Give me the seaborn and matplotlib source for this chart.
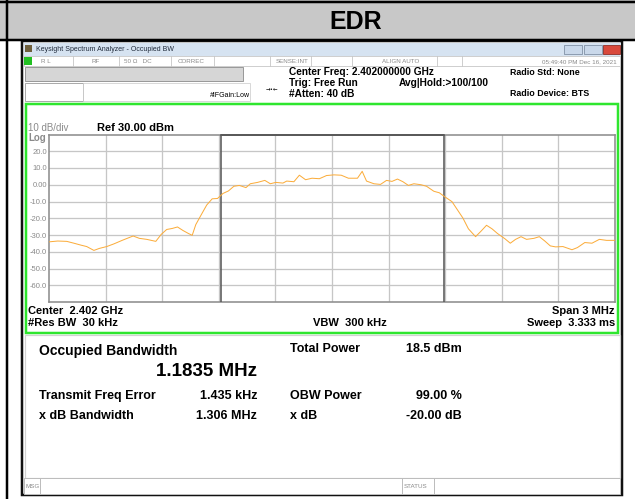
import matplotlib
matplotlib.use("Agg")   # no display in the sandbox
import matplotlib.pyplot as plt
from matplotlib.patches import Rectangle
import seaborn as sns
import pandas as pd

# ── Trace ────────────────────────────────────────────────────────────────────
# offset from the 2.402 GHz centre (MHz) and displayed level (dBm)
FREQ_OFFSET_MHZ = [
    -1.500, -1.454, -1.406, -1.368, -1.329, -1.300, -1.262, -1.233, -1.194, -1.156,
    -1.108, -1.054, -1.021, -0.982, -0.934, -0.905, -0.876, -0.847, -0.819, -0.790,
    -0.761, -0.741, -0.722, -0.693, -0.664, -0.635, -0.607, -0.578, -0.549, -0.520,
    -0.491, -0.456, -0.433, -0.395, -0.356, -0.327, -0.298, -0.260, -0.240, -0.202,
    -0.173, -0.140, -0.106, -0.067, -0.029, 0.010, 0.049, 0.087, 0.135, 0.160,
    0.183, 0.222, 0.257, 0.289, 0.318, 0.347, 0.376, 0.405, 0.434, 0.472,
    0.501, 0.540, 0.569, 0.598, 0.636, 0.665, 0.694, 0.723, 0.761, 0.790,
    0.819, 0.848, 0.877, 0.916, 0.945, 0.973, 1.002, 1.031, 1.070, 1.099,
    1.128, 1.157, 1.185, 1.224, 1.272, 1.301, 1.340, 1.378, 1.417, 1.455, 1.500,
]
LEVEL_DBM = [
    -34.1, -33.6, -33.8, -34.9, -36.1, -36.9, -39.2, -38.0, -36.9, -35.3,
    -33.0, -30.6, -32.0, -32.6, -33.8, -29.6, -26.7, -26.1, -25.2, -27.3,
    -29.1, -30.2, -23.8, -17.9, -12.1, -8.4, -8.2, -5.2, -3.7, -0.9,
    -0.4, -1.7, 0.6, 1.4, 2.6, 0.6, 1.4, 1.0, 2.2, 1.8,
    5.7, 3.0, 3.9, 3.6, 5.5, 5.9, 5.7, 3.9, 3.9, 8.0,
    2.2, 0.6, 0.2, 2.6, 2.0, 3.4, 1.8, -0.4, 0.6, 0.0,
    -0.9, -3.9, -4.8, -7.2, -10.1, -15.0, -19.9, -26.3, -31.0, -27.7,
    -24.2, -26.3, -29.1, -32.2, -34.9, -32.6, -31.0, -32.6, -32.0, -31.0,
    -33.6, -36.5, -37.1, -36.9, -38.8, -37.5, -34.5, -34.9, -32.6, -33.2, -33.2,
]

SPAN_MHZ = 3.0
REF_DBM = 30.0
BOTTOM_DBM = -70.0
OBW_MHZ = 1.1835
FREQ_ERR_MHZ = 0.001435
Y_TICKS = [20, 10, 0, -10, -20, -30, -40, -50, -60]
Y_TICK_LABELS = ["20.0", "10.0", "0.00", "-10.0", "-20.0", "-30.0", "-40.0", "-50.0", "-60.0"]
X_GRID_MHZ = [-1.2, -0.9, -0.6, -0.3, 0.0, 0.3, 0.6, 0.9, 1.2]

W, H = 635, 499
PX = 0.72  # one pixel in points at dpi 100

sns.set_style("white")
plt.rcParams["font.family"] = ["Liberation Sans", "DejaVu Sans"]

fig = plt.figure(figsize=(W / 100, H / 100), dpi=100)
bg = fig.add_axes([0, 0, 1, 1])
bg.set_xlim(0, W)
bg.set_ylim(H, 0)
bg.axis("off")


def box(x, y, w, h, fc="none", ec="none", lw=1.0, z=1):
    bg.add_patch(Rectangle((x, y), w, h, facecolor=fc, edgecolor=ec, linewidth=lw * PX, zorder=z))


def txt(x, y, s, size=7, bold=False, color="black", ha="left", family=None):
    kw = {"family": family} if family else {}
    bg.text(x, y, s, fontsize=size, fontweight="bold" if bold else "normal",
            color=color, ha=ha, va="center", **kw)


# ── Report table header ──────────────────────────────────────────────────────
box(0, 0, W, 40, fc="#c8c8c8")
bg.plot([0, W], [2, 2], color="black", lw=2.5 * PX)
bg.plot([0, W], [40, 40], color="black", lw=2.5 * PX)
bg.plot([7, 7], [0, H], color="black", lw=2.5 * PX)
txt(356, 22, "EDR", size=18, bold=True, ha="center",
    family=["Liberation Sans Narrow", "Liberation Sans"])

# ── Analyzer window chrome ───────────────────────────────────────────────────
box(22, 41, 600, 454, fc="white", ec="#111111", lw=2.5, z=1)
box(23.5, 42.5, 597, 13, fc="#d6e3f1", z=2)
box(25, 45, 7, 7, fc="#6e5f3c", z=3)
txt(36, 49.5, "Keysight Spectrum Analyzer - Occupied BW", size=5, color="#1f2a3a")
box(564, 45, 18, 9, fc="#c9d8ea", ec="#7d8ea3", lw=0.8, z=3)
box(584, 45, 18, 9, fc="#c9d8ea", ec="#7d8ea3", lw=0.8, z=3)
box(603, 45, 17, 9, fc="#d9493c", ec="#8a2a22", lw=0.8, z=3)

# status strip
box(24, 56, 596, 10, fc="white", ec="#c4c4c4", lw=0.8, z=2)
box(24, 57, 8, 8, fc="#22c022", z=3)
for sx in [73, 119, 171, 214, 270, 311, 352, 437, 462]:
    bg.plot([sx, sx], [56, 66], color="#c4c4c4", lw=0.8 * PX, zorder=3)
for sx, s in [(41, "R L"), (92, "RF"), (124, "50 Ω   DC"), (178, "CORREC"),
              (276, "SENSE:INT"), (382, "ALIGN AUTO")]:
    txt(sx, 61.5, s, size=4.5, color="#8a8a8a")
txt(617, 61.5, "05:49:40 PM Dec 16, 2021", size=4.5, color="#8a8a8a", ha="right")

box(25, 67, 218, 14, fc="#d6d6d6", ec="#9a9a9a", lw=1.0, z=2)
box(25, 83, 58, 18, fc="white", ec="#aaaaaa", lw=1.0, z=2)
box(83, 83, 167, 18, ec="#d0d0d0", lw=0.8, z=2)
txt(210, 95, "#IFGain:Low", size=5)
txt(266, 88.5, "→•←", size=4, family=["DejaVu Sans"])
txt(289, 72, "Center Freq: 2.402000000 GHz", size=7.3, bold=True)
txt(289, 83, "Trig: Free Run", size=7.3, bold=True)
txt(289, 93.5, "#Atten: 40 dB", size=7.3, bold=True)
txt(399, 83, "Avg|Hold:>100/100", size=7.3, bold=True)
txt(510, 72, "Radio Std: None", size=6.4, bold=True)
txt(510, 93.5, "Radio Device: BTS", size=6.4, bold=True)

# ── Trace window (green frame) ───────────────────────────────────────────────
box(25.5, 103.5, 592, 229, fc="white", ec="#2ee62e", lw=2.5, z=2)
txt(28, 128, "10 dB/div", size=7, color="#8a8a8a")
txt(28, 138, "Log", size=7, bold=True, color="#8a8a8a")
txt(97, 128, "Ref 30.00 dBm", size=8, bold=True)
txt(28, 311, "Center  2.402 GHz", size=8, bold=True)
txt(28, 323, "#Res BW  30 kHz", size=8, bold=True)
txt(313, 323, "VBW  300 kHz", size=8, bold=True)
txt(615, 311, "Span 3 MHz", size=8, bold=True, ha="right")
txt(615, 323, "Sweep  3.333 ms", size=8, bold=True, ha="right")

# ── Measurement results panel ────────────────────────────────────────────────
box(25, 335, 595, 143, fc="white", ec="#d2d2d2", lw=1.2, z=2)
txt(39, 351, "Occupied Bandwidth", size=10, bold=True)
txt(257, 371, "1.1835 MHz", size=13.5, bold=True, ha="right")
txt(39, 396, "Transmit Freq Error", size=9, bold=True)
txt(257, 396, "1.435 kHz", size=9, bold=True, ha="right")
txt(39, 416, "x dB Bandwidth", size=9, bold=True)
txt(257, 416, "1.306 MHz", size=9, bold=True, ha="right")
txt(290, 349, "Total Power", size=9, bold=True)
txt(462, 349, "18.5 dBm", size=9, bold=True, ha="right")
txt(290, 396, "OBW Power", size=9, bold=True)
txt(462, 396, "99.00 %", size=9, bold=True, ha="right")
txt(290, 416, "x dB", size=9, bold=True)
txt(462, 416, "-20.00 dB", size=9, bold=True, ha="right")

box(24, 478, 596, 16, fc="white", ec="#bdbdbd", lw=1.0, z=2)
for sx in [40, 402, 434]:
    bg.plot([sx, sx], [478, 494], color="#bdbdbd", lw=1.0 * PX, zorder=3)
txt(25.5, 486, "MSG", size=4.5, color="#8a8a8a")
txt(404, 486, "STATUS", size=4.5, color="#8a8a8a")

# ── Spectrum plot ────────────────────────────────────────────────────────────
left, right, top, bottom = 49, 615, 134.5, 302
ax = fig.add_axes([left / W, (H - bottom) / H, (right - left) / W, (bottom - top) / H])
trace = pd.DataFrame({"freq": FREQ_OFFSET_MHZ, "level": LEVEL_DBM})
sns.lineplot(data=trace, x="freq", y="level", ax=ax, color="#fbac3a",
             linewidth=1.0 * PX, zorder=4)

ax.set_xlim(-SPAN_MHZ / 2, SPAN_MHZ / 2)
ax.set_ylim(BOTTOM_DBM, REF_DBM)
ax.set_xticks(X_GRID_MHZ)
ax.set_xticklabels([])
ax.set_yticks(Y_TICKS)
ax.set_yticklabels(Y_TICK_LABELS)
ax.tick_params(length=0, labelsize=5.5, labelcolor="#8a8a8a", pad=1.5)
ax.set_xlabel("")
ax.set_ylabel("")
ax.grid(True, color="#c6c6c6", linewidth=1.3 * PX)
ax.set_axisbelow(True)
for sp in ax.spines.values():
    sp.set_color("#8e8e8e")
    sp.set_linewidth(1.6 * PX)

# occupied-bandwidth bracket
lo = FREQ_ERR_MHZ - OBW_MHZ / 2
hi = FREQ_ERR_MHZ + OBW_MHZ / 2
for xv in (lo, hi):
    ax.axvline(xv, color="#5a5a5a", linewidth=1.6 * PX, zorder=3)
ax.plot([lo, hi], [REF_DBM, REF_DBM], color="#5a5a5a", linewidth=2.0 * PX,
        clip_on=False, zorder=5)

fig.savefig("out.png", dpi=100)
plt.close(fig)
